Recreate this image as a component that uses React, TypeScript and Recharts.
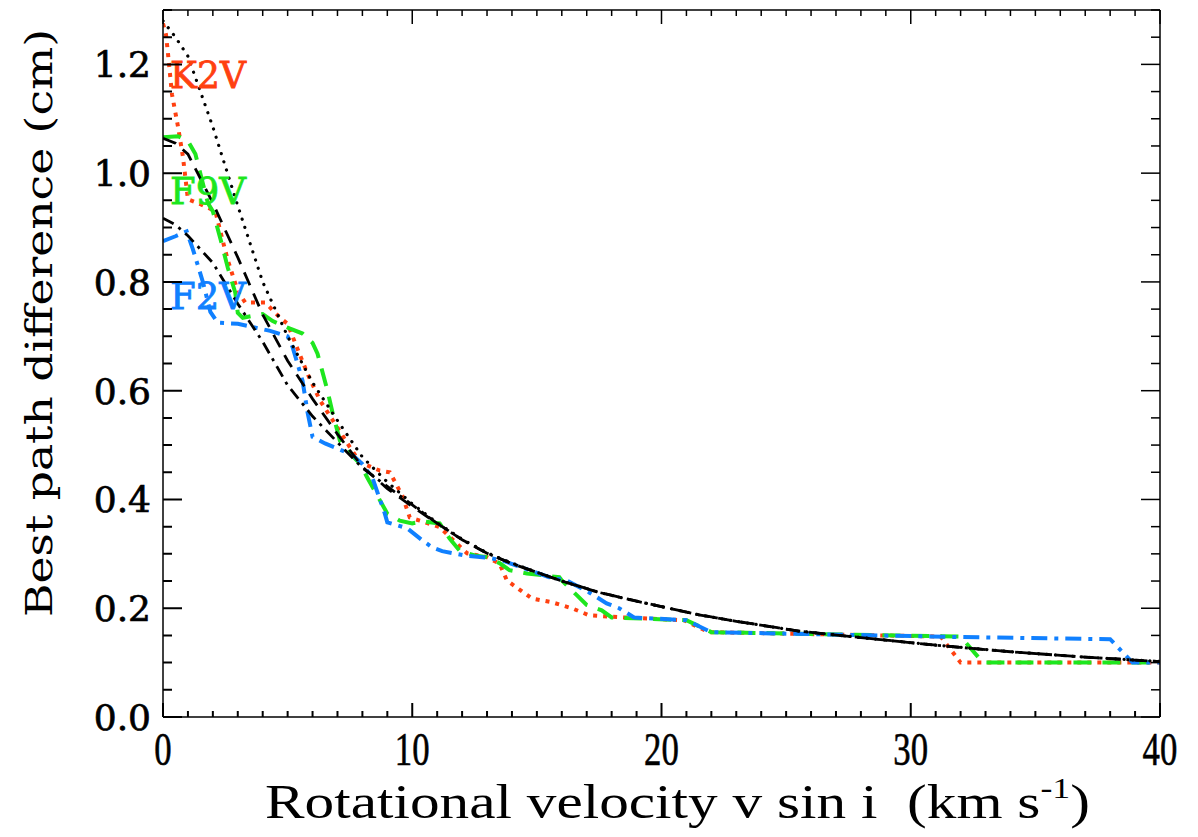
import React from 'react';
import { LineChart, Line, XAxis, YAxis, ReferenceDot } from 'recharts';

// measured curves (v sin i in km/s, best path difference in cm)
const k2vV = [0, 0.12, 0.2, 0.36, 0.6, 0.8, 1.0, 1.4, 2.1, 2.4, 2.6, 3.0, 3.3, 4.1, 4.7, 5.0, 5.3, 5.8, 6.3, 7.0, 7.4, 7.9, 8.7, 9.1, 9.6, 9.9, 10.3, 11.1, 12.2, 13.0, 13.5, 13.8, 14.8, 15.6, 16.4, 17.1, 18.5, 20.9, 21.9, 31.2, 32.0, 40];
const k2vY = [1.275, 1.255, 1.22, 1.145, 1.086, 1.03, 0.952, 0.945, 0.93, 0.875, 0.84, 0.783, 0.762, 0.762, 0.734, 0.723, 0.688, 0.631, 0.582, 0.532, 0.503, 0.468, 0.453, 0.45, 0.407, 0.367, 0.361, 0.349, 0.301, 0.294, 0.282, 0.251, 0.218, 0.211, 0.2, 0.187, 0.183, 0.178, 0.156, 0.148, 0.1, 0.1];

const f9vV = [0, 0.6, 1.0, 1.3, 1.8, 2.0, 2.3, 2.6, 2.9, 3.0, 3.2, 4.0, 4.4, 5.1, 5.6, 6.0, 6.2, 6.6, 6.8, 7.1, 7.6, 7.9, 8.2, 9.0, 9.5, 10.0, 10.4, 11.1, 11.5, 11.9, 12.5, 13.0, 13.5, 13.9, 14.6, 15.9, 16.0, 16.6, 17.0, 17.6, 18.0, 21.0, 22.0, 32.0, 32.9, 40];
const f9vY = [1.066, 1.068, 1.059, 1.035, 0.945, 0.93, 0.88, 0.826, 0.78, 0.743, 0.734, 0.741, 0.728, 0.714, 0.705, 0.688, 0.668, 0.6, 0.56, 0.508, 0.48, 0.466, 0.44, 0.374, 0.361, 0.356, 0.36, 0.356, 0.328, 0.306, 0.297, 0.294, 0.283, 0.27, 0.264, 0.257, 0.251, 0.224, 0.206, 0.196, 0.183, 0.178, 0.156, 0.148, 0.1, 0.1];

const f2vV = [0, 0.5, 0.95, 1.2, 1.6, 1.9, 2.2, 3.0, 4.3, 5.0, 5.2, 5.6, 5.8, 6.0, 6.5, 7.6, 8.0, 8.4, 8.9, 9.0, 9.8, 10.4, 10.8, 11.2, 12.1, 13.0, 13.6, 14.7, 15.5, 16.2, 17.1, 17.8, 18.3, 18.9, 21.0, 22.0, 32.0, 38.0, 38.9, 40];
const f2vY = [0.875, 0.884, 0.893, 0.86, 0.8, 0.745, 0.725, 0.723, 0.71, 0.7, 0.68, 0.618, 0.56, 0.515, 0.503, 0.482, 0.465, 0.44, 0.374, 0.358, 0.347, 0.325, 0.312, 0.305, 0.297, 0.293, 0.288, 0.27, 0.257, 0.251, 0.229, 0.209, 0.2, 0.183, 0.178, 0.156, 0.147, 0.143, 0.1, 0.1];

// fitted curves (black)
const fitV = [0, 0.5, 1, 2, 3, 4, 5, 6, 7, 8, 9, 10, 11, 12, 13, 14, 15, 16, 17.5, 19, 20, 21.5, 23, 25.5, 28, 31, 34, 37, 40];
const k2vFit = [1.28, 1.25, 1.215, 1.085, 0.94, 0.8, 0.7, 0.615, 0.545, 0.478, 0.432, 0.392, 0.357, 0.327, 0.302, 0.283, 0.266, 0.25, 0.229, 0.213, 0.203, 0.188, 0.176, 0.158, 0.146, 0.132, 0.12, 0.11, 0.102];
const f9vFit = [1.064, 1.055, 1.035, 0.945, 0.845, 0.74, 0.655, 0.585, 0.52, 0.46, 0.42, 0.387, 0.356, 0.326, 0.301, 0.282, 0.266, 0.25, 0.229, 0.213, 0.203, 0.188, 0.176, 0.158, 0.146, 0.132, 0.12, 0.11, 0.102];
const f2vFit = [0.917, 0.905, 0.885, 0.835, 0.76, 0.69, 0.61, 0.553, 0.505, 0.458, 0.424, 0.39, 0.356, 0.326, 0.301, 0.282, 0.266, 0.25, 0.229, 0.213, 0.203, 0.188, 0.176, 0.158, 0.146, 0.132, 0.12, 0.11, 0.102];

const xTicks = Array.from({ length: 41 }, (_, i) => i);
const xLabelTicks = [0, 10, 20, 30, 40];
const yTicks = Array.from({ length: 27 }, (_, i) => Math.round(i * 5) / 100);
const yLabelTicks = [0, 0.2, 0.4, 0.6, 0.8, 1.0, 1.2];

const RED = '#ff4010';
const GREEN = '#1ee61e';
const BLUE = '#1080ff';

// chart frame: margins + axis sizes give a plot box of 997 x 707 at (163, 10)
const MARGIN = { top: 9, right: 37, bottom: 0, left: 0 };
const PLOT_LEFT = 163, PLOT_BOTTOM = 717, PLOT_W = 997, PLOT_H = 707;
const X_MAX = 40, Y_MAX = 1.3;
const X_MINOR = 6, X_MAJOR = 14, Y_MINOR = 9, Y_MAJOR = 19;

const toRows = (vs: number[], ys: number[]) => vs.map((v, i) => ({ v, y: ys[i] }));
const isMajorX = (v: number) => v % 10 === 0;
const isMajorY = (v: number) => Math.abs(v * 5 - Math.round(v * 5)) < 1e-6;

const topMarks = (props: any) => {
  const { x, y, payload } = props;
  const top = y - X_MINOR;
  const len = isMajorX(payload.value) ? X_MAJOR : X_MINOR;
  return <line x1={x} x2={x} y1={top} y2={top + len} stroke="#000" strokeWidth={1.5} />;
};
const rightMarks = (props: any) => {
  const { x, y, payload } = props;
  const right = x + Y_MINOR;
  const len = isMajorY(payload.value) ? Y_MAJOR : Y_MINOR;
  return <line x1={right} x2={right - len} y1={y} y2={y} stroke="#000" strokeWidth={1.5} />;
};

// tick labels
const xLabel = (props: any) => {
  const { x, y, payload } = props;
  return (
    <text x={x} y={y + 48} textAnchor="middle" fontFamily="Liberation Serif" fontSize={47}
      stroke="#000" strokeWidth={0.6}
      transform={`translate(${x} 0) scale(0.74 1) translate(${-x} 0)`} fill="#000">
      {payload.value}
    </text>
  );
};
const yLabel = (props: any) => {
  const { x, y, payload } = props;
  return (
    <text x={x - 12} y={y + 13} textAnchor="end" fontFamily="DejaVu Serif" fontSize={36} fill="#000"
      stroke="#000" strokeWidth={0.7}>
      {payload.value.toFixed(1)}
    </text>
  );
};

const starLabel = (text: string, color: string) => (p: any) => (
  <text x={p.cx} y={p.cy} fill={color} stroke={color} strokeWidth={0.8} fontFamily="DejaVu Serif" fontSize={38}
    textLength={76} lengthAdjust="spacingAndGlyphs">
    {text}
  </text>
);

// bottom and left inward ticks as one path each, placed with the same linear mapping as the axes
const bottomTickPath = xTicks
  .map((v) => {
    const px = PLOT_LEFT + (v / X_MAX) * PLOT_W;
    const len = isMajorX(v) ? X_MAJOR : X_MINOR;
    return `M${px.toFixed(2)} ${PLOT_BOTTOM}L${px.toFixed(2)} ${PLOT_BOTTOM - len}`;
  })
  .join('');
const leftTickPath = yTicks
  .map((v) => {
    const py = PLOT_BOTTOM - (v / Y_MAX) * PLOT_H;
    const len = isMajorY(v) ? Y_MAJOR : Y_MINOR;
    return `M${PLOT_LEFT} ${py.toFixed(2)}L${PLOT_LEFT + len} ${py.toFixed(2)}`;
  })
  .join('');

export default function App() {
  const axisLine = { stroke: '#000', strokeWidth: 1.5 };
  const frame = { type: 'number' as const, tickSize: 0, tickMargin: 0, tickLine: false, axisLine, allowDataOverflow: true, interval: 0 as const };
  const ids = { xAxisId: 'x', yAxisId: 'y' };
  return (
    <div style={{ width: 1198, height: 837, background: '#fff', position: 'relative' }}>
      <style>{'body{margin:0}'}</style>
      <div style={{ position: 'absolute', left: 0, top: 0, zIndex: 1 }}>
        <LineChart width={1198} height={837} margin={MARGIN}>
          <XAxis xAxisId="x" orientation="bottom" dataKey="v" domain={[0, X_MAX]} ticks={xLabelTicks}
            height={120} tick={xLabel} {...frame} />
          <XAxis xAxisId="t" orientation="top" dataKey="v" domain={[0, X_MAX]} ticks={xTicks} height={1}
            tick={topMarks} {...frame} tickSize={-X_MINOR} />
          <YAxis yAxisId="y" orientation="left" domain={[0, Y_MAX]} ticks={yLabelTicks}
            width={163} tick={yLabel} {...frame} />
          <YAxis yAxisId="r" orientation="right" domain={[0, Y_MAX]} ticks={yTicks} width={1}
            tick={rightMarks} {...frame} tickSize={-Y_MINOR} />

          {/* invisible series that binds the frame axes */}
          <Line xAxisId="t" yAxisId="r" data={toRows(fitV, k2vFit)} dataKey="y" stroke="none" strokeOpacity={0}
            dot={false} activeDot={false} isAnimationActive={false} legendType="none" />

          <Line {...ids} data={toRows(k2vV, k2vY)} dataKey="y" type="linear" stroke={RED} strokeWidth={4}
            strokeDasharray="4 6" dot={false} isAnimationActive={false} />
          <Line {...ids} data={toRows(f9vV, f9vY)} dataKey="y" type="linear" stroke={GREEN} strokeWidth={4}
            strokeDasharray="18 11" dot={false} isAnimationActive={false} />
          <Line {...ids} data={toRows(f2vV, f2vY)} dataKey="y" type="linear" stroke={BLUE} strokeWidth={4}
            strokeDasharray="16 7 4 7" dot={false} isAnimationActive={false} />

          <Line {...ids} data={toRows(fitV, k2vFit)} dataKey="y" type="linear" stroke="#000" strokeWidth={3.2}
            strokeDasharray="0.1 8.5" strokeLinecap="round" dot={false} isAnimationActive={false} />
          <Line {...ids} data={toRows(fitV, f9vFit)} dataKey="y" type="linear" stroke="#000" strokeWidth={2.8}
            strokeDasharray="14 9" dot={false} isAnimationActive={false} />
          <Line {...ids} data={toRows(fitV, f2vFit)} dataKey="y" type="linear" stroke="#000" strokeWidth={2.8}
            strokeDasharray="12 6 3 6" dot={false} isAnimationActive={false} />

          <ReferenceDot {...ids} x={0.28} y={1.156} r={0} shape={starLabel('K2V', RED)} />
          <ReferenceDot {...ids} x={0.28} y={0.943} r={0} shape={starLabel('F9V', GREEN)} />
          <ReferenceDot {...ids} x={0.28} y={0.75} r={0} shape={starLabel('F2V', BLUE)} />
        </LineChart>
      </div>
      <svg width={1198} height={837} viewBox="0 0 1198 837"
        style={{ position: 'absolute', left: 0, top: 0, zIndex: 5, pointerEvents: 'none', overflow: 'visible' }}>
        <path d={bottomTickPath} stroke="#000" strokeWidth={2} fill="none" />
        <path d={leftTickPath} stroke="#000" strokeWidth={2} fill="none" />
        <text x={0} y={0} transform="translate(52 323) rotate(-90)" textAnchor="middle" fontFamily="DejaVu Serif"
          fontSize={37} textLength={588} lengthAdjust="spacingAndGlyphs" fill="#000">
          Best path difference (cm)
        </text>
        <text x={265} y={818} fontFamily="Liberation Serif" fontSize={48} fill="#000"
          textLength={825} lengthAdjust="spacingAndGlyphs">
          {'Rotational velocity v sin i\u00a0\u00a0(km s'}<tspan dy={-20} fontSize={29}>-1</tspan><tspan dy={20}>)</tspan>
        </text>
      </svg>
    </div>
  );
}
